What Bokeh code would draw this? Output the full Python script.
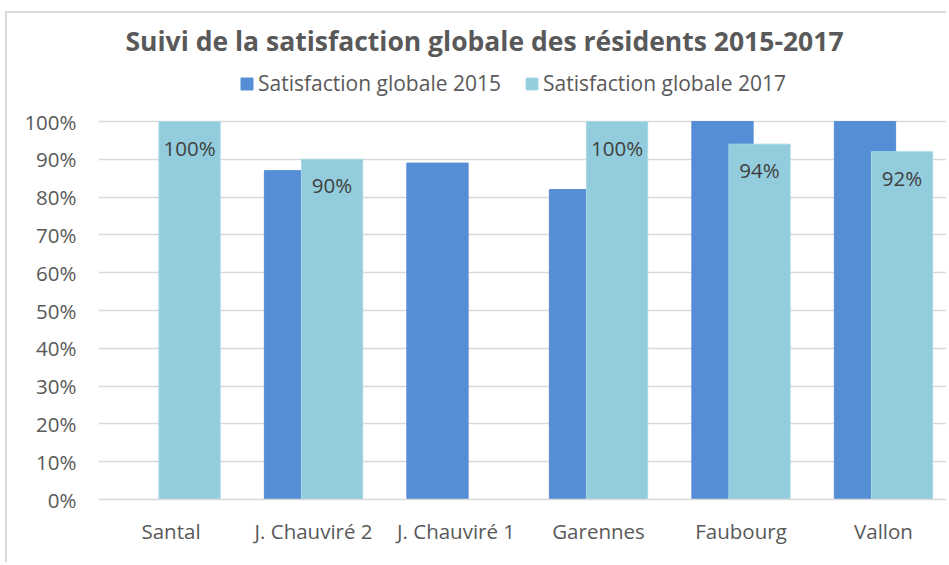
from bokeh.plotting import figure
from bokeh.models import (ColumnDataSource, Range1d, FixedTicker, NumeralTickFormatter,
                          Legend, LegendItem, Label, LabelSet)
from bokeh.core.properties import value
from bokeh.embed import file_html
from bokeh.resources import INLINE

# ---- data ----
categories = ["Santal", "J. Chauviré 2", "J. Chauviré 1", "Garennes", "Faubourg", "Vallon"]
sat_2015 = [None, 0.87, 0.89, 0.82, 1.00, 1.00]
sat_2017 = [1.00, 0.90, None, 1.00, 0.94, 0.92]
series_names = ["Satisfaction globale 2015", "Satisfaction globale 2017"]
y_ticks = [0, 0.1, 0.2, 0.3, 0.4, 0.5, 0.6, 0.7, 0.8, 0.9, 1.0]
title_text = "Suivi de la satisfaction globale des résidents 2015-2017"

FONT = "Open Sans"
C2015 = "#558ED5"
C2017 = "#93CDDD"
TXT = "#595959"
GRID = "#D9D9D9"
FS = "20.5px"

nan = float("nan")
idx = list(range(len(categories)))
OFF = 0.13
BW = 0.43
src = ColumnDataSource(dict(
    x15=[i - OFF for i in idx],
    x17=[i + OFF for i in idx],
    v15=[nan if v is None else v for v in sat_2015],
    v17=[nan if v is None else v for v in sat_2017],
    lab17=["" if v is None else f"{round(v*100)}%" for v in sat_2017],
    y17=[0 if v is None else v for v in sat_2017],
))

p = figure(width=941, height=551, output_backend="svg", toolbar_location=None,
           x_range=Range1d(-0.509, 5.456), y_range=Range1d(0, 1.2725),
           min_border_left=91, min_border_right=0, min_border_top=5, min_border_bottom=65)
p.outline_line_color = None
p.background_fill_color = "white"
p.border_fill_color = "white"

r15 = p.vbar(x="x15", top="v15", width=BW, source=src, fill_color=C2015, line_color=C2015)
r17 = p.vbar(x="x17", top="v17", width=BW, source=src, fill_color=C2017, line_color="#A8D8E6")

labels = LabelSet(x="x17", y="y17", text="lab17", source=src, text_align="center",
                  text_baseline="middle", y_offset=-26, text_font=value(FONT),
                  text_font_size=FS, text_color="#404040")
p.add_layout(labels)

# axes
p.xaxis.ticker = FixedTicker(ticks=idx)
p.xaxis.major_label_overrides = {i: c for i, c in zip(idx, categories)}
p.xaxis.major_label_text_font = FONT
p.xaxis.major_label_text_font_size = FS
p.xaxis.major_label_text_color = TXT
p.xaxis.major_label_standoff = 11
p.xaxis.axis_line_color = GRID
p.xaxis.axis_line_width = 1.5
p.xaxis.major_tick_line_color = None
p.xaxis.minor_tick_line_color = None

p.yaxis.ticker = FixedTicker(ticks=y_ticks)
p.yaxis.formatter = NumeralTickFormatter(format="0%")
p.yaxis.major_label_text_font = FONT
p.yaxis.major_label_text_font_size = FS
p.yaxis.major_label_text_color = TXT
p.yaxis.major_label_standoff = 16
p.yaxis.axis_line_color = None
p.yaxis.major_tick_line_color = None
p.yaxis.minor_tick_line_color = None

p.xgrid.grid_line_color = None
p.ygrid.grid_line_color = GRID
p.ygrid.grid_line_width = 1.5

# title
p.add_layout(Label(x=2.2, y=1.214, text=title_text, text_align="center",
                   text_baseline="middle", text_font=FONT, text_font_style="bold",
                   text_font_size="26.5px", text_color=TXT))

# legend
legend = Legend(items=[LegendItem(label=series_names[0], renderers=[r15]),
                       LegendItem(label=series_names[1], renderers=[r17])],
                orientation="horizontal", location=(141, 402),
                glyph_width=15, glyph_height=15, label_standoff=4, spacing=23,
                padding=0, margin=0, border_line_color=None, background_fill_alpha=0,
                label_text_font=FONT, label_text_font_size="21px", label_text_color=TXT)
p.add_layout(legend)

p.styles = {"margin-left": "5px", "margin-top": "11px",
            "border-top": "2px solid #D9D9D9", "border-left": "2px solid #D9D9D9"}

open("out.html", "w").write(file_html(p, INLINE))
